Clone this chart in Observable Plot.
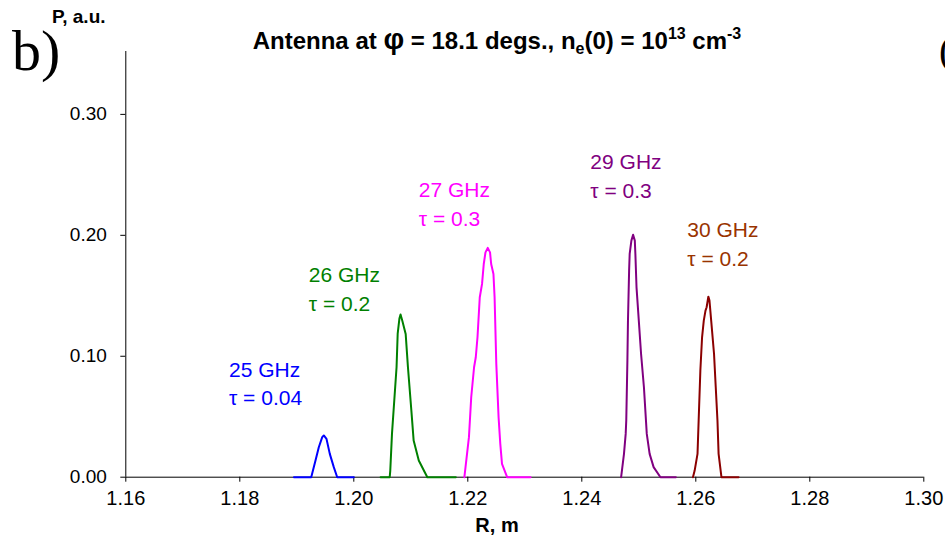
<!DOCTYPE html>
<html>
<head>
<meta charset="utf-8">
<script src="https://cdn.jsdelivr.net/npm/d3@7"></script>
<script src="https://cdn.jsdelivr.net/npm/@observablehq/plot@0.6"></script>
<style>
  html, body { margin: 0; padding: 0; background: white; overflow: hidden; }
  #chart { position: relative; width: 945px; height: 540px; }
</style>
</head>
<body>
<div id="chart"></div>
<script>
// ---- data ----
const freqLabels = ["25 GHz", "26 GHz", "27 GHz", "29 GHz", "30 GHz"];
const tauLabels  = ["τ = 0.04", "τ = 0.2", "τ = 0.3", "τ = 0.3", "τ = 0.2"];

const R25 = [1.1895, 1.19253, 1.19328, 1.19386, 1.19446, 1.19474, 1.19521, 1.19579, 1.19649, 1.19709, 1.2000];
const P25 = [0, 0, 0.0138, 0.0248, 0.0331, 0.0345, 0.0317, 0.0193, 0.0083, 0, 0];

const R26 = [1.2047, 1.2063, 1.2064, 1.2067, 1.2071, 1.2075, 1.2077, 1.2080, 1.2082, 1.2085, 1.2091, 1.2095, 1.2101, 1.2105, 1.2114, 1.2129, 1.2179];
const P26 = [0, 0, 0.0055, 0.036, 0.0634, 0.0909, 0.1188, 0.1312, 0.1345, 0.1295, 0.1185, 0.0909, 0.0551, 0.0303, 0.0138, 0, 0];

const R27 = [1.2194, 1.2202, 1.2206, 1.2211, 1.2214, 1.2217, 1.2221, 1.2225, 1.2228, 1.2231, 1.2235, 1.2239, 1.2241, 1.2245, 1.2247, 1.2250, 1.2254, 1.2257, 1.2260, 1.2269, 1.2310];
const P27 = [0, 0.0331, 0.0661, 0.0909, 0.0992, 0.1157, 0.1488, 0.1598, 0.1763, 0.1859, 0.1896, 0.1859, 0.1763, 0.1680, 0.1488, 0.0937, 0.0496, 0.0276, 0.0110, 0, 0];

const R29 = [1.2469, 1.2474, 1.2477, 1.2478, 1.2480, 1.2481, 1.2483, 1.2484, 1.2487, 1.2490, 1.2493, 1.2494, 1.2496, 1.2500, 1.2504, 1.2509, 1.2514, 1.2519, 1.2526, 1.2538, 1.2565];
const P29 = [0, 0.0193, 0.0358, 0.0469, 0.0964, 0.1295, 0.1708, 0.1846, 0.1956, 0.2005, 0.1956, 0.1846, 0.1570, 0.1295, 0.1019, 0.0744, 0.0358, 0.0193, 0.0083, 0, 0];

const R30 = [1.2595, 1.2598, 1.2603, 1.2605, 1.2608, 1.2611, 1.2614, 1.2617, 1.2619, 1.2622, 1.2624, 1.2627, 1.2632, 1.2635, 1.2638, 1.2640, 1.2645, 1.2675];
const P30 = [0, 0.0055, 0.0193, 0.0469, 0.0882, 0.1157, 0.1295, 0.1378, 0.1405, 0.1493, 0.1460, 0.1295, 0.1019, 0.0744, 0.0469, 0.0193, 0, 0];

// label anchor (data coords, baseline of the τ line)
const labelR = [1.1781, 1.1921, 1.2114, 1.2415, 1.2585];
const labelP = [0.0593, 0.1378, 0.2080, 0.2306, 0.1750];

const xTicks = [1.16, 1.18, 1.20, 1.22, 1.24, 1.26, 1.28, 1.30];
const yTicks = [0.00, 0.10, 0.20, 0.30];

// ---- styles ----
const lineColors = ["#0000FF", "#008000", "#FF00FF", "#800080", "#8B0000"];
const textColors = ["#0000FF", "#008000", "#FF00FF", "#800080", "#993300"];

const Rs = [R25, R26, R27, R29, R30];
const Ps = [P25, P26, P27, P29, P30];
const curves = freqLabels.flatMap((f, i) => Rs[i].map((r, j) => ({freq: f, R: r, P: Ps[i][j]})));
const labels = freqLabels.map((f, i) => ({freq: f, text: f + "\n" + tauLabels[i], R: labelR[i], P: labelP[i], fill: textColors[i]}));

const chart = Plot.plot({
  width: 945,
  height: 540,
  marginLeft: 125.3,
  marginRight: 21.7,
  marginTop: 51,
  marginBottom: 63.3,
  style: {fontFamily: "'Liberation Sans', Arial, sans-serif", fontSize: "19px", background: "white", color: "black", overflow: "hidden"},
  x: {domain: [1.16, 1.30]},
  y: {domain: [0, 0.352]},
  color: {domain: freqLabels, range: lineColors},
  marks: [
    Plot.axisX({ticks: xTicks, tickFormat: d3.format(".2f"), tickSize: 5, tickPadding: 9, label: null, fontSize: 20}),
    Plot.axisY({ticks: yTicks, tickFormat: d3.format(".2f"), tickSize: 5, tickPadding: 14, label: null, fontSize: 19}),
    Plot.ruleX([1.16], {stroke: "black", strokeWidth: 1}),
    Plot.ruleY([0], {stroke: "black", strokeWidth: 1}),
    Plot.line(curves, {x: "R", y: "P", z: "freq", stroke: "freq", strokeWidth: 2, curve: "linear"}),
    Plot.text(labels, {x: "R", y: "P", text: "text", fill: d => d.fill, textAnchor: "start", lineAnchor: "bottom", lineHeight: 1.38, fontSize: 21})
  ]
});

const svg = d3.select(chart);
// Title
const t = svg.append("text")
  .attr("x", 497).attr("y", 49)
  .attr("text-anchor", "middle")
  .attr("font-weight", "bold")
  .attr("font-size", 24)
  .attr("fill", "black");
t.append("tspan").text("Antenna at ");
t.append("tspan").attr("font-size", 29).text("φ");
t.append("tspan").text(" = 18.1 degs., n");
t.append("tspan").attr("font-size", 16).attr("dy", 5).text("e");
t.append("tspan").attr("dy", -5).text("(0) = 10");
t.append("tspan").attr("font-size", 16).attr("dy", -10).text("13");
t.append("tspan").attr("dy", 10).text(" cm");
t.append("tspan").attr("font-size", 16).attr("dy", -10).text("-3");

// Y axis title
svg.append("text").attr("x", 52).attr("y", 23).attr("text-anchor", "start")
  .attr("font-weight", "bold").attr("font-size", 19).text("P, a.u.");
// X axis title
svg.append("text").attr("x", 497).attr("y", 532)
  .attr("text-anchor", "middle").attr("font-weight", "bold").attr("font-size", 20).text("R, m");
// Panel letter
svg.append("text").attr("x", 12).attr("y", 70).attr("text-anchor", "start")
  .attr("font-family", "'Liberation Serif', 'Times New Roman', serif").attr("font-size", 58).text("b)");
// next panel letter, cut at the right edge
svg.append("text").attr("x", 939).attr("y", 64).attr("text-anchor", "start")
  .attr("font-family", "'Liberation Serif', 'Times New Roman', serif").attr("font-size", 40).text("(");

document.getElementById("chart").append(chart);
</script>
</body>
</html>
